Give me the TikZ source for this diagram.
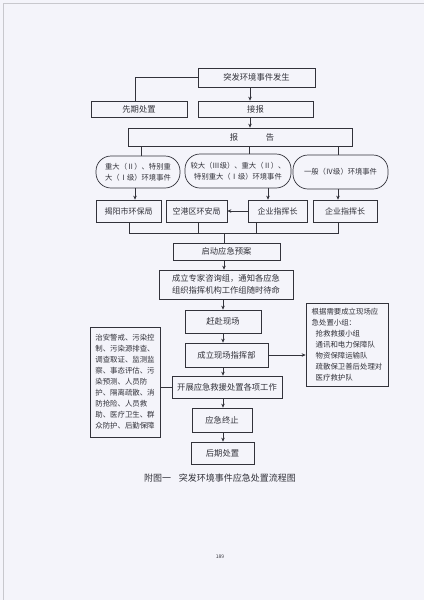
\documentclass[tikz,border=0pt]{standalone}
\usepackage{fontspec}
\setmainfont{Noto Sans CJK SC}
\usetikzlibrary{arrows.meta,calc}
\definecolor{pagebg}{RGB}{244,244,250}
\definecolor{ink}{RGB}{50,50,58}
\definecolor{edge}{RGB}{200,200,205}
\begin{document}
\begin{tikzpicture}[x=1pt,y=-1pt,
  bx/.style={draw=ink,line width=0.7pt,inner sep=0pt,text=ink,font=\fontsize{8.3}{12}\selectfont,align=center},
  sb/.style={bx,font=\fontsize{8}{10}\selectfont},
  ov/.style={bx,rounded corners=15pt,font=\fontsize{7.3}{11.5}\selectfont},
  tb/.style={bx,align=left,font=\fontsize{7.4}{11}\selectfont},
  arr/.style={draw=ink,line width=0.7pt,-{Stealth[length=4pt,width=3.5pt]}},
  ln/.style={draw=ink,line width=0.7pt}]
\useasboundingbox (0,0) rectangle (424,600);
\fill[pagebg] (0,0) rectangle (424,600);
\draw[edge,line width=0.8pt] (3,600) -- (3,3) -- (424,3);
% column x positions
\coordinate (k135) at (135,0);
\coordinate (k141) at (141,0);
\coordinate (k249) at (249,0);
\coordinate (k250) at (250,0);
\coordinate (k338) at (338,0);
\coordinate (k268) at (268,0);
\coordinate (k129) at (129,0);
\coordinate (k198) at (198,0);
\coordinate (k256) at (256,0);
\coordinate (k224) at (224,0);
\coordinate (k223) at (223,0);
\coordinate (busy) at (0,233);
% nodes
\node[bx,minimum width=117pt,minimum height=19pt] (top) at (256.5,77.5) {突发环境事件发生};
\node[bx,minimum width=96pt,minimum height=16pt] (xq) at (139,109) {先期处置};
\node[bx,minimum width=115pt,minimum height=16pt] (jb) at (255.5,109) {接报};
\node[bx,minimum width=224pt,minimum height=18pt] (bg) at (240,137) {\hspace{24pt}报\hspace{27.7pt}告};
\node[ov,minimum width=84pt,minimum height=32pt] (o1) at (138,172) {重大（Ⅱ）、特别重\\大（Ⅰ级）环境事件};
\node[ov,minimum width=106pt,minimum height=34pt] (o2) at (238,171) {较大（Ⅲ级）、重大（Ⅱ）、\\特别重大（Ⅰ级）环境事件};
\node[ov,minimum width=95pt,minimum height=34pt] (o3) at (340.5,172) {一般（Ⅳ级）环境事件};
\node[sb,minimum width=65pt,minimum height=22pt] (b1) at (128.5,211) {揭阳市环保局};
\node[sb,minimum width=61pt,minimum height=22pt] (b2) at (196.5,211) {空港区环安局};
\node[sb,minimum width=59pt,minimum height=22pt] (b3) at (277.5,211) {企业指挥长};
\node[sb,minimum width=64pt,minimum height=22pt] (b4) at (345,211) {企业指挥长};
\node[bx,minimum width=107pt,minimum height=17pt] (qd) at (226.5,251.5) {启动应急预案};
\node[bx,minimum width=134pt,minimum height=29pt] (zj) at (226,284.5) {成立专家咨询组，通知各应急\\组织指挥机构工作组随时待命};
\node[bx,minimum width=76pt,minimum height=23pt] (gf) at (223,321.5) {赶赴现场};
\node[bx,minimum width=83pt,minimum height=24pt] (zh) at (226.5,355) {成立现场指挥部};
\node[bx,minimum width=110pt,minimum height=22pt] (kz) at (227,387) {开展应急救援处置各项工作};
\node[bx,minimum width=60pt,minimum height=24pt] (zz) at (222,420) {应急终止};
\node[bx,minimum width=63pt,minimum height=22pt] (hq) at (222.5,453) {后期处置};
\node[tb,minimum width=70pt,minimum height=110pt] (lb) at (125,382) {治安警戒、污染控\\制、污染源排查、\\调查取证、监测监\\察、事态评估、污\\染预测、人员防\\护、隔离疏散、消\\防抢险、人员救\\助、医疗卫生、群\\众防护、后勤保障};
\node[tb,minimum width=82pt,minimum height=83pt] (rb) at (347,344.5) {根据需要成立现场应\\急处置小组：\\\hspace*{4pt}抢救救援小组\\\hspace*{4pt}通讯和电力保障队\\\hspace*{4pt}物资保障运输队\\\hspace*{4pt}疏散保卫善后处理对\\\hspace*{4pt}医疗救护队};
\node[text=ink,font=\fontsize{9}{11}\selectfont,inner sep=0pt] (cap) at (220,478) {附图一\hspace{8pt}突发环境事件应急处置流程图};
\node[text=ink,font=\fontsize{5}{6}\selectfont,inner sep=0pt] (pg) at (220,557) {189};
% connectors
\draw[ln] (top.west) -| (xq.north -| k135);
\draw[arr] (top.south -| k250) -- (jb.north -| k250);
\draw[arr] (jb.south -| k250) -- (bg.north -| k250);
\draw[ln] (bg.south -| k141) -- (o1.north -| k141);
\draw[ln] (bg.south -| k249) -- (o2.north -| k249);
\draw[ln] (bg.south -| k338) -- (o3.north -| k338);
\draw[arr] (o1.south -| k135) -- (b1.north -| k135);
\draw[arr] (o2.south -| k268) -- (b3.north -| k268);
\draw[arr] (o3.south -| k338) -- (b4.north -| k338);
\draw[arr] (b3.west) -- (b2.east);
\draw[ln] (b1.south -| k129) -- (k129 |- busy) -- (k338 |- busy) -- (b4.south -| k338);
\draw[ln] (b2.south -| k198) -- (k198 |- busy);
\draw[ln] (b3.south -| k256) -- (k256 |- busy);
\draw[ln] (k224 |- busy) -- (qd.north -| k224);
\draw[arr] (qd.south -| k224) -- (zj.north -| k224);
\draw[arr] (zj.south -| k223) -- (gf.north -| k223);
\draw[arr] (gf.south -| k223) -- (zh.north -| k223);
\draw[arr] (zh.south -| k223) -- (kz.north -| k223);
\draw[arr] (kz.south -| k223) -- (zz.north -| k223);
\draw[arr] (zz.south -| k223) -- (hq.north -| k223);
\draw[arr] (zh.east) -- (zh.east -| rb.west);
\draw[ln] (lb.east |- kz.west) -- (kz.west);
\end{tikzpicture}
\end{document}
